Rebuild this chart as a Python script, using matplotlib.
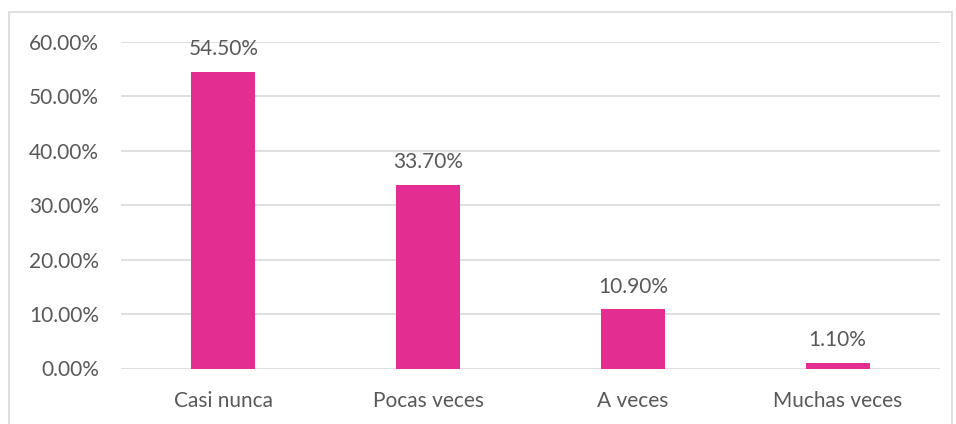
import matplotlib.pyplot as plt
from matplotlib.patches import Rectangle
from matplotlib.ticker import PercentFormatter

# data
categorias = ["Casi nunca", "Pocas veces", "A veces", "Muchas veces"]
porcentajes = [54.5, 33.7, 10.9, 1.1]
marcas_y = [0, 10, 20, 30, 40, 50, 60]

plt.rcParams["font.family"] = ["Lato", "DejaVu Sans"]
gris = "#595959"

fig = plt.figure(figsize=(9.56, 4.24), dpi=100)
ax = fig.add_axes([121 / 956, 1 - 368.5 / 424, 819 / 956, (368.5 - 41.7) / 424])

# chart border (as in the Excel frame)
fig.patches.append(Rectangle((9 / 956, -0.05), 943 / 956, 1 - 12 / 424 + 0.05,
                             transform=fig.transFigure, fill=False,
                             edgecolor="#d9d9d9", linewidth=1.2))

x = range(len(categorias))
barras = ax.bar(x, porcentajes, width=0.3125, color="#e32d91", zorder=3)

for b, v in zip(barras, porcentajes):
    ax.annotate(f"{v:.2f}%", (b.get_x() + b.get_width() / 2, v),
                xytext=(0, 9), textcoords="offset points",
                ha="center", va="bottom", fontsize=15, color=gris)

ax.set_xlim(-0.5, len(categorias) - 0.5)
ax.set_ylim(0, 60)
ax.set_yticks(marcas_y)
ax.yaxis.set_major_formatter(PercentFormatter(decimals=2))
ax.set_xticks(list(x))
ax.set_xticklabels(categorias)

ax.grid(axis="y", color="#d9d9d9", linewidth=1.2, zorder=0)
for s in ax.spines.values():
    s.set_visible(False)
ax.tick_params(length=0, labelsize=15, labelcolor=gris)
ax.tick_params(axis="y", pad=16)
ax.tick_params(axis="x", pad=16)

fig.savefig("out.png", dpi=100)
